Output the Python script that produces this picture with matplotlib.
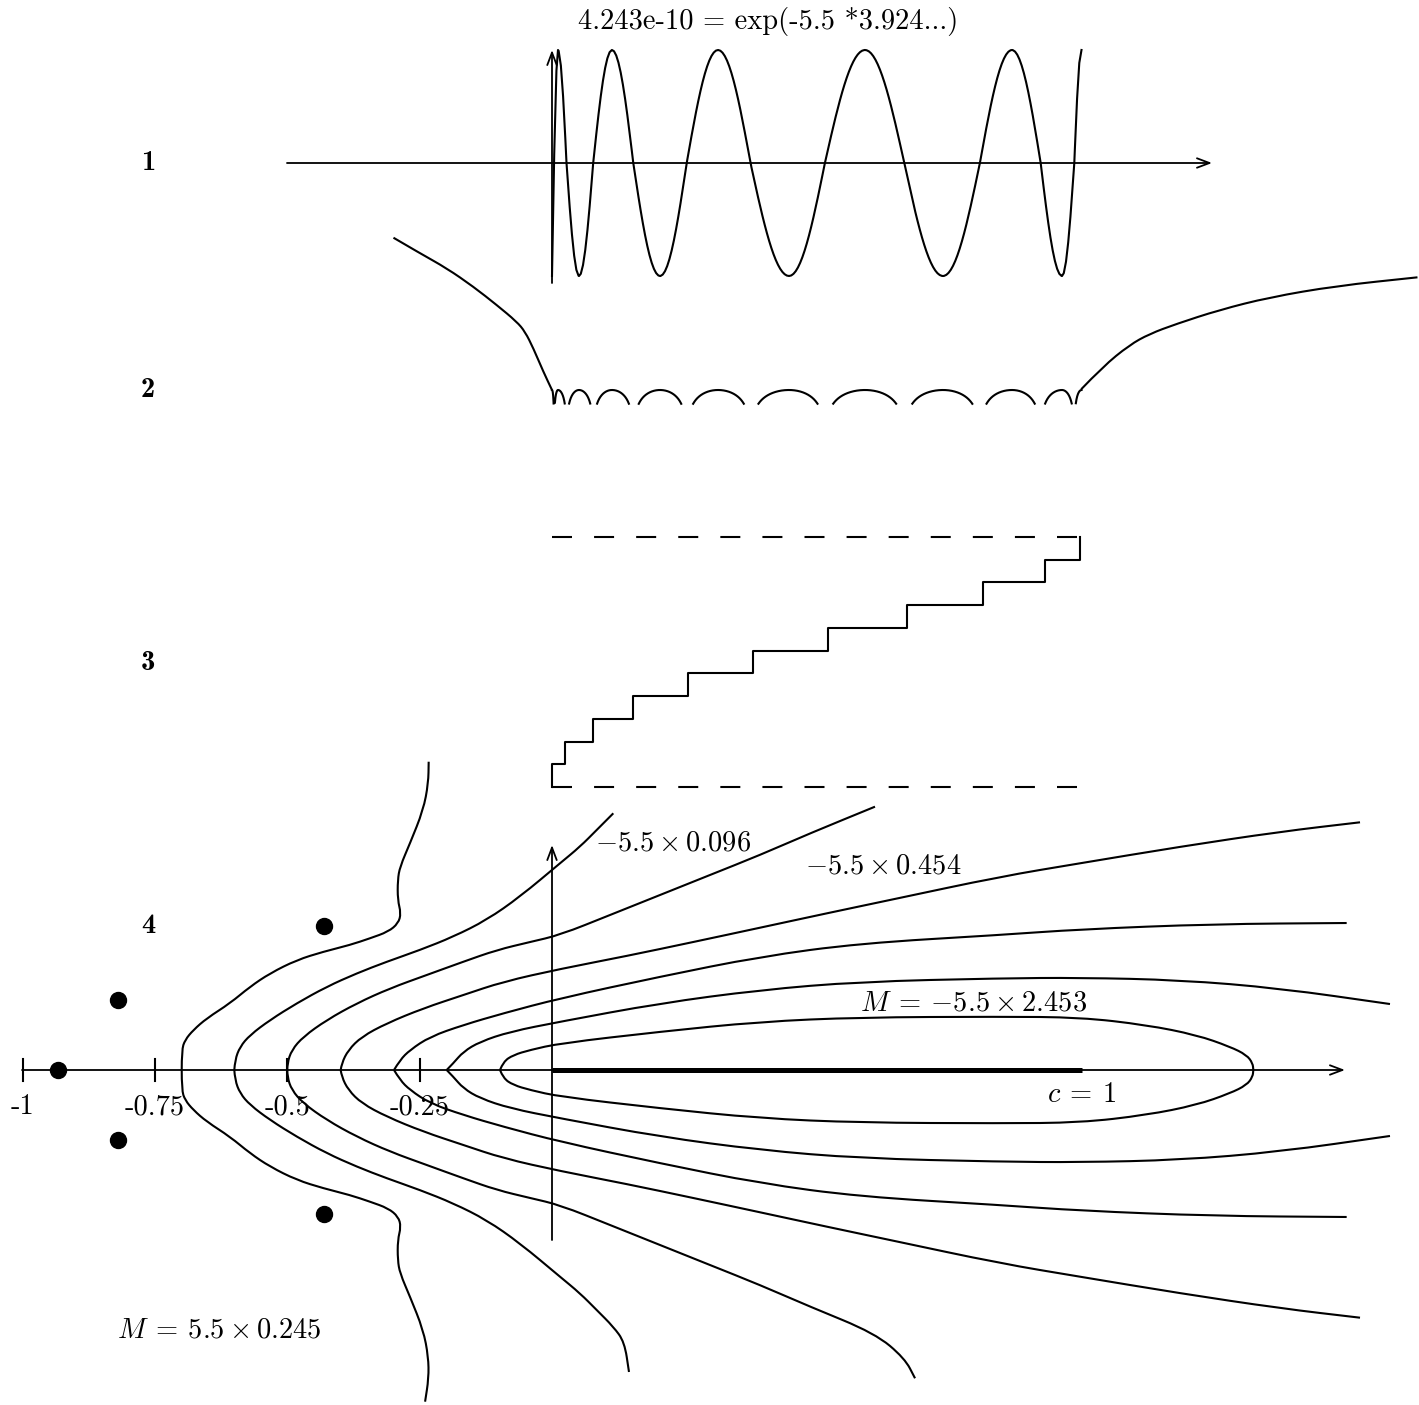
import os
import numpy as np
import matplotlib
matplotlib.use('Agg')
import matplotlib.pyplot as plt
from matplotlib.path import Path
from matplotlib.patches import PathPatch
from matplotlib.font_manager import FontProperties

plt.rcParams['font.family'] = 'serif'
plt.rcParams['font.serif'] = ['cmr10']
plt.rcParams['mathtext.fontset'] = 'cm'
plt.rcParams['axes.unicode_minus'] = False

# ---- panel 1: weighted polynomial, extrema / zeros ----
osc_x = [0, 0.0038, 0.0113, 0.0274, 0.0510, 0.0778, 0.1133, 0.1535, 0.2040,
         0.2544, 0.3135, 0.3749, 0.4476, 0.5154, 0.5911, 0.6653, 0.7384,
         0.8081, 0.8687, 0.9229, 0.9632, 0.9864, 1.0]
osc_phase = np.arange(len(osc_x)) * 0.5   # extremum, zero, extremum, ...
title_txt = "4.243e-10 = exp(-5.5 *3.924...)"

# ---- panel 2: log of the weighted polynomial ----
left_x = [-0.2994, -0.2491, -0.1987, -0.1485, -0.1043, -0.0666, -0.0509,
          -0.0353, -0.0164, 0.0]
left_y = [12.69, 11.39, 10.14, 8.61, 7.08, 5.69, 4.86, 3.48, 1.53, 0.0]
right_x = [0.9994, 1.0402, 1.0906, 1.1283, 1.1787, 1.2604, 1.3547, 1.4806, 1.6345]
right_y = [0.06, 1.94, 3.75, 4.67, 5.5, 6.67, 7.72, 8.67, 9.39]
log_floor = -1.15

# ---- panel 3: counting function of the zeros ----
jumps = [0, 0.0253, 0.0774, 0.1535, 0.2563, 0.3796, 0.5212, 0.6712, 0.8142,
         0.9303, 0.997]

c1_x = [-0.6993, -0.6993, -0.6931, -0.6774, -0.6521, -0.6081, -0.5703, -0.5326,
        -0.4822, -0.4319, -0.3815, -0.3437, -0.3092, -0.2903, -0.2852, -0.2914,
        -0.2914, -0.2871, -0.2682, -0.2431, -0.2336, -0.2329]
c1_y = [0, 0.0378, 0.0567, 0.0755, 0.0976, 0.1260, 0.1573, 0.1826, 0.2077,
        0.2234, 0.2361, 0.2487, 0.2612, 0.2771, 0.2959, 0.3211, 0.3588, 0.3839,
        0.4281, 0.4910, 0.5414, 0.5822]
c1_tail = [(-0.2397, -0.6264)]

c2_x = [-0.6000, -0.5987, -0.5892, -0.5703, -0.5326, -0.4822, -0.4255, -0.3688,
        -0.3122, -0.2493, -0.1864, -0.1233, -0.0604, 0.0151, 0.0529, 0.0844, 0.1158]
c2_y = [0, 0.0189, 0.0440, 0.0661, 0.0944, 0.1260, 0.1573, 0.1826, 0.2045,
        0.2266, 0.2517, 0.2833, 0.3273, 0.3904, 0.4217, 0.4533, 0.4848]
c2_tail = [(0.1369, -0.5137), (0.1454, -0.5703)]

c3_x = [-0.4999, -0.4999, -0.4916, -0.4697, -0.4255, -0.3688, -0.3059, -0.2366,
        -0.1675, -0.1044, -0.0415, 0.0151, 0.1095, 0.2040, 0.2984, 0.3928,
        0.4873, 0.6100]
c3_y = [0, 0.0127, 0.0378, 0.0629, 0.0944, 0.1260, 0.1543, 0.1794, 0.2045,
        0.2266, 0.2417, 0.2550, 0.2927, 0.3305, 0.3683, 0.4060, 0.4470, 0.4973]
c3_tail = [(0.6661, -0.5445), (0.6856, -0.5822)]

c4_x = [-0.3991, -0.3972, -0.3847, -0.3594, -0.3122, -0.2431, -0.1675, -0.0920,
        0.0151, 0.1411, 0.2669, 0.3928, 0.5188, 0.6446, 0.8461, 0.9972, 1.1860,
        1.3749, 1.5260]
c4_y = [0, 0.0127, 0.0378, 0.0629, 0.0882, 0.1165, 0.1416, 0.1668, 0.1908,
        0.2153, 0.2417, 0.2687, 0.2959, 0.3224, 0.3651, 0.3904, 0.4217, 0.4500,
        0.4678]

c5_x = [-0.2984, -0.2871, -0.2682, -0.2304, -0.1675, -0.0920, 0.0151, 0.2040,
        0.3928, 0.5817, 0.8461, 0.9972, 1.2489, 1.5008]
c5_y = [0, 0.0189, 0.0378, 0.0629, 0.0850, 0.1071, 0.1354, 0.1762, 0.2140,
        0.2393, 0.2550, 0.2657, 0.2757, 0.2776]

c6_x = [-0.1989, -0.1864, -0.1675, -0.1360, -0.0793, 0.0151, 0.2040, 0.3928,
        0.5817, 0.8461, 0.9972, 1.1860, 1.3749, 1.5826]
c6_y = [0, 0.0127, 0.0346, 0.0534, 0.0723, 0.0912, 0.1260, 0.1511, 0.1668,
        0.1732, 0.1743, 0.1700, 0.1543, 0.1246]

c7_x = [-0.0982, -0.0920, -0.0731, -0.0415, 0.0151, 0.2040, 0.3928, 0.5817,
        0.8461, 0.9972, 1.1231, 1.2175, 1.2805, 1.3120, 1.3233, 1.3245]
c7_y = [0, 0.0157, 0.0283, 0.0378, 0.0504, 0.0723, 0.0912, 0.0995, 0.1007,
        0.0995, 0.0850, 0.0661, 0.0440, 0.0283, 0.0127, 0]

dot_x = [-0.9330, -0.8196, -0.8196, -0.4306, -0.4306]
dot_y = [0, 0.1322, -0.1322, 0.2720, -0.2720]

tick_vals = [-1, -0.75, -0.5, -0.25]
tick_labels = ["-1", "-0.75", "-0.5", "-0.25"]

W, H = 1419, 1405
fig = plt.figure(figsize=(W / 100, H / 100), dpi=100)
LW = 1.5
FS = 20.5

bold_file = os.path.join(matplotlib.get_data_path(), 'fonts', 'ttf', 'cmb10.ttf')
if os.path.exists(bold_file):
    bold = FontProperties(fname=bold_file, size=FS)
else:
    bold = FontProperties(family='DejaVu Serif', weight='bold', size=FS)


def panel(y0, scale):
    # every panel spans the whole canvas; the x scale is shared
    ax = fig.add_axes([0, 0, 1, 1])
    ax.set_xlim(-552 / 529.5, (W - 552) / 529.5)
    ax.set_ylim((y0 - H) / scale, y0 / scale)
    ax.axis('off')
    ax.patch.set_alpha(0)
    return ax


def arrow(ax, x0, y0, x1, y1):
    ax.annotate('', xy=(x1, y1), xytext=(x0, y0),
                arrowprops=dict(arrowstyle='->,head_length=0.45,head_width=0.17',
                                lw=1.3, color='k', shrinkA=0, shrinkB=0,
                                mutation_scale=20))


def smooth(ax, xs, ys, lw=LW):
    # quadratic bezier through the midpoints of the traced points
    pts = np.column_stack([xs, ys])
    verts = [pts[0]]
    codes = [Path.MOVETO]
    for i in range(1, len(pts) - 1):
        verts += [pts[i], (pts[i] + pts[i + 1]) / 2]
        codes += [Path.CURVE3, Path.CURVE3]
    verts.append(pts[-1])
    codes.append(Path.LINETO)
    ax.add_patch(PathPatch(Path(verts, codes), fill=False, lw=lw,
                           edgecolor='k', capstyle='butt'))


# panel 1
ax1 = panel(163, 113)
arrow(ax1, -0.5005, 0, 1.2465, 0)
arrow(ax1, 0, -1.062, 0, 1.0)
xs = np.union1d(np.linspace(0, 1, 240), osc_x)
ph = np.interp(xs, osc_x, osc_phase)
ax1.plot(xs, -np.cos(np.pi * ph), color='k', lw=LW)
ax1.text(0.408, 1.248, title_txt, fontsize=FS, ha='center', va='center')
ax1.text(-0.763, 0, '1', fontproperties=bold, ha='center', va='center')

# panel 2
ax2 = panel(390, 12)
xs2 = np.union1d(np.linspace(0, 1, 6000), osc_x)
ph2 = np.interp(xs2, osc_x, osc_phase)
lv = np.log(np.abs(np.cos(np.pi * ph2)) + 1e-300)
lv[lv < log_floor] = np.nan
ax2.plot(xs2, lv, color='k', lw=LW)
smooth(ax2, left_x, left_y)
smooth(ax2, right_x, right_y)
ax2.text(-0.763, 0, '2', fontproperties=bold, ha='center', va='center')

# panel 3
ax3 = panel(787, 250)
n = len(jumps)
sx = [0] + jumps
sy = [0] + [(k + 1) / n for k in range(n)]
ax3.step(sx, sy, where='post', color='k', lw=LW)
for lev in (0, 1):
    ln, = ax3.plot([0, 1.0], [lev, lev], color='k', lw=LW)
    ln.set_dashes((9.6, 10.6))
ax3.text(-0.763, 0.496, '3', fontproperties=bold, ha='center', va='center')

# panel 4
ax4 = panel(1070, 529.5)
arrow(ax4, -1.0009, 0, 1.4976, 0)
arrow(ax4, 0, -0.3211, 0, 0.4249)
for t in tick_vals:
    ax4.plot([t, t], [-0.0208, 0.0208], color='k', lw=LW)
for t, lab in zip(tick_vals, tick_labels):
    ax4.text(t, -0.0699, lab, fontsize=FS, ha='center', va='center')
ax4.plot([0, 1.0], [0, 0], color='k', lw=3.6, solid_capstyle='butt')


def draw_level(cx, cy, tail=()):
    # upper half as traced, lower half is its mirror image (plus a longer tail)
    smooth(ax4, cx, cy)
    low_x = list(cx) + [p[0] for p in tail]
    low_y = [-v for v in cy] + [p[1] for p in tail]
    smooth(ax4, low_x, low_y)


draw_level(c1_x, c1_y, c1_tail)
draw_level(c2_x, c2_y, c2_tail)
draw_level(c3_x, c3_y, c3_tail)
draw_level(c4_x, c4_y)
draw_level(c5_x, c5_y)
draw_level(c6_x, c6_y)
draw_level(c7_x, c7_y)

ax4.plot(dot_x, dot_y, 'o', color='k', ms=11.5)

ax4.text(-0.763, 0.272, '4', fontproperties=bold, ha='center', va='center')
ax4.text(0.0812, 0.4287, r'$-5.5\times 0.096$', fontsize=FS, ha='left', va='center')
ax4.text(0.4778, 0.3853, r'$-5.5\times 0.454$', fontsize=FS, ha='left', va='center')
ax4.text(0.5817, 0.1265, r'$M\:=\:-5.5\times 2.453$', fontsize=FS, ha='left', va='center')
ax4.text(0.9348, -0.0472, r'$c\:=\:1$', fontsize=FS, ha='left', va='center')
ax4.text(-0.8215, -0.4910, r'$M\:=\:5.5\times 0.245$', fontsize=FS, ha='left', va='center')

fig.savefig('out.png', dpi=100)
